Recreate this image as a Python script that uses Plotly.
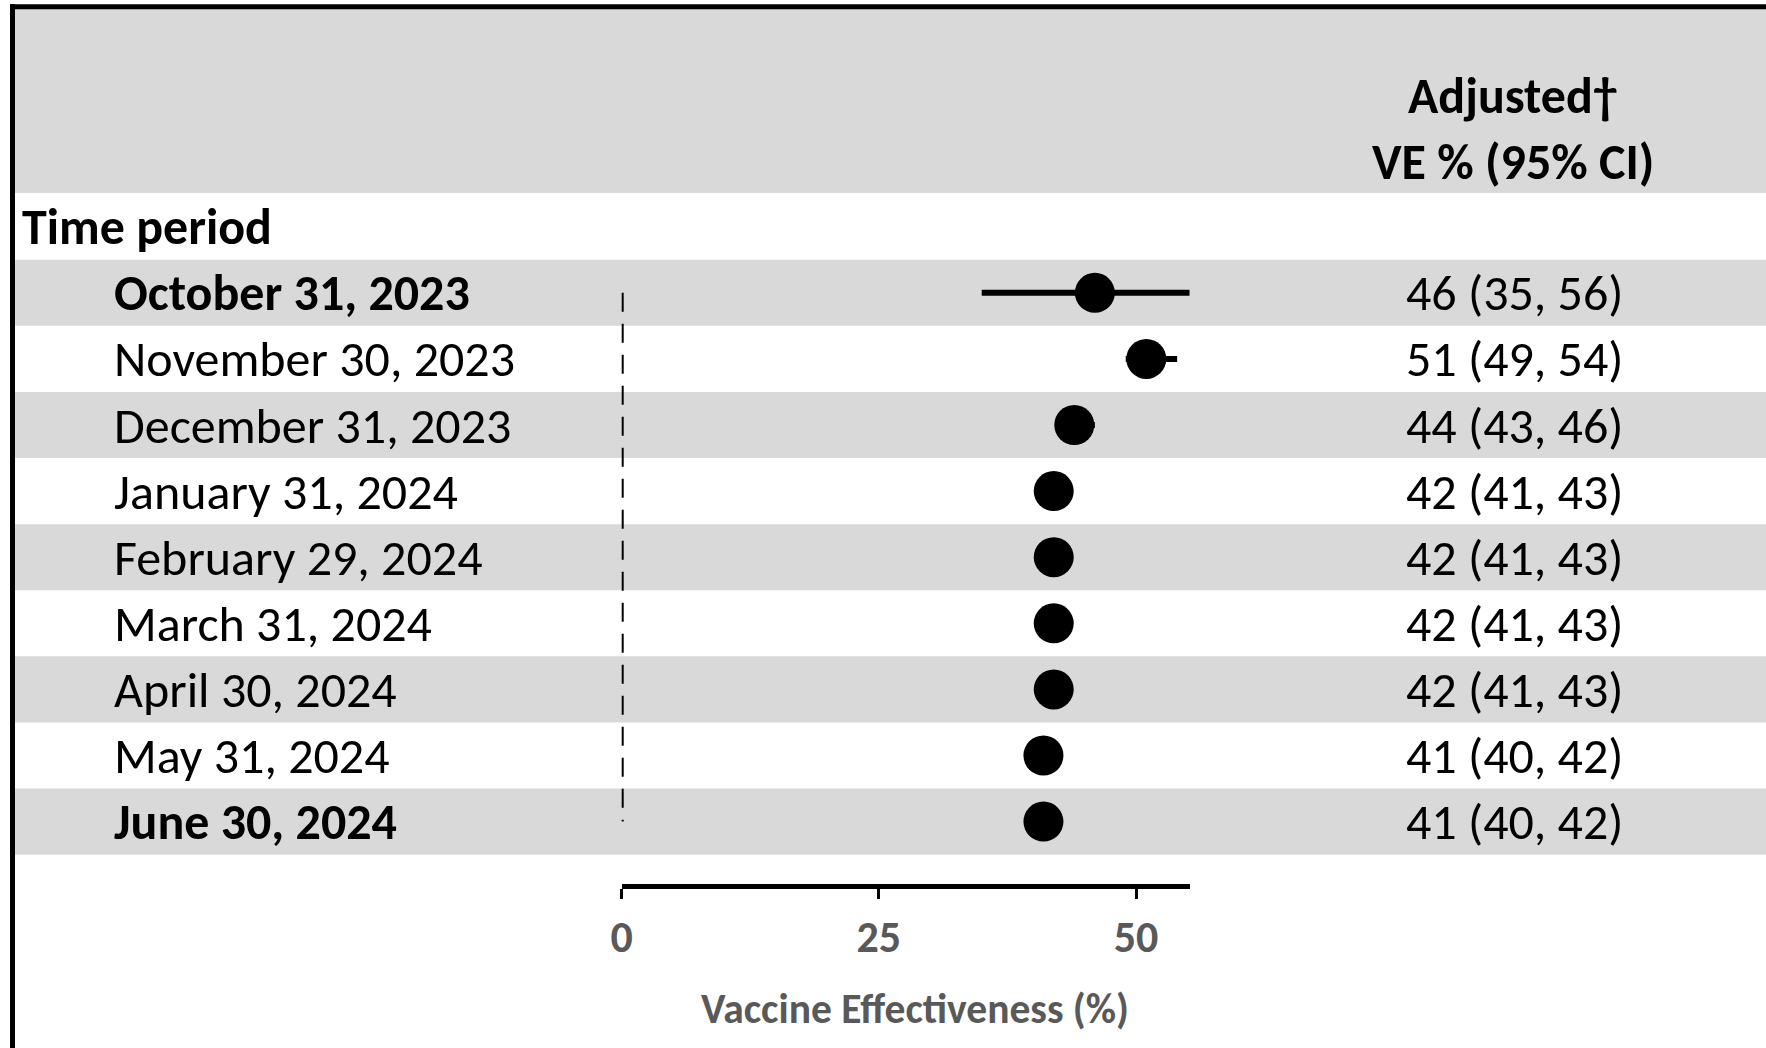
import plotly.graph_objects as go

# ---------------- data ----------------
periods = [
    "October 31, 2023", "November 30, 2023", "December 31, 2023",
    "January 31, 2024", "February 29, 2024", "March 31, 2024",
    "April 30, 2024", "May 31, 2024", "June 30, 2024",
]
bold_rows = [True, False, False, False, False, False, False, False, True]
ve = [46, 51, 44, 42, 42, 42, 42, 41, 41]
ci_low = [35, 49, 43, 41, 41, 41, 41, 40, 40]
ci_high = [56, 54, 46, 43, 43, 43, 43, 42, 42]
x_ticks = [0, 25, 50]
header_line1 = "Adjusted†"
header_line2 = "VE % (95% CI)"
row_header = "Time period"
x_title = "Vaccine Effectiveness (%)"

# ---------------- layout constants ----------------
W, H = 1766, 1048
FONT = "Calibri, Carlito, Lato, sans-serif"
GRAY_BAND = "#D9D9D9"
GRAY_TEXT = "#595959"
TXT = 50

rows = list(range(len(periods)))

fig = go.Figure()

fig.add_trace(go.Scatter(
    x=ve, y=rows, mode="markers",
    marker=dict(size=40, color="black"),
    error_x=dict(type="data", symmetric=False,
                 array=[h - v for h, v in zip(ci_high, ve)],
                 arrayminus=[v - l for v, l in zip(ve, ci_low)],
                 color="black", thickness=6, width=0),
    cliponaxis=True, showlegend=False, hoverinfo="skip",
))

shapes = []
# header band
shapes.append(dict(type="rect", xref="paper", yref="y", x0=0.006, x1=1,
                   y0=-4.35, y1=-1.51, fillcolor=GRAY_BAND, line_width=0, layer="below"))
# alternating row bands
for i in rows:
    if i % 2 == 0:
        shapes.append(dict(type="rect", xref="paper", yref="y", x0=0.006, x1=1,
                           y0=i - 0.5, y1=i + 0.5, fillcolor=GRAY_BAND,
                           line_width=0, layer="below"))
# reference dashed line at 0
shapes.append(dict(type="line", xref="x", yref="y", x0=0, x1=0, y0=rows[0], y1=rows[-1],
                   line=dict(color="black", width=4, dash="19px,12px"), layer="above"))
# border
shapes.append(dict(type="line", xref="paper", yref="paper", x0=10 / W, x1=1,
                   y0=1 - 6.7 / H, y1=1 - 6.7 / H, line=dict(color="black", width=5)))
shapes.append(dict(type="line", xref="paper", yref="paper", x0=12.5 / W, x1=12.5 / W,
                   y0=0, y1=1 - 4.2 / H, line=dict(color="black", width=5)))

annotations = []
for i, (p, b) in enumerate(zip(periods, bold_rows)):
    annotations.append(dict(xref="paper", yref="y", x=112 / W, y=i, xanchor="left",
                            yanchor="middle", showarrow=False,
                            text=f"<b>{p}</b>" if b else p,
                            font=dict(family=FONT, size=TXT, color="black")))
    annotations.append(dict(xref="paper", yref="y", x=1514 / W, y=i, xanchor="center",
                            yanchor="middle", showarrow=False,
                            text=f"{ve[i]} ({ci_low[i]}, {ci_high[i]})",
                            font=dict(family=FONT, size=TXT, color="black")))
annotations.append(dict(xref="paper", yref="y", x=20 / W, y=-1, xanchor="left",
                        yanchor="middle", showarrow=False, text=f"<b>{row_header}</b>",
                        font=dict(family=FONT, size=TXT, color="black")))
annotations.append(dict(xref="paper", yref="y", x=1513 / W, y=-2.98, xanchor="center",
                        yanchor="middle", showarrow=False, text=f"<b>{header_line1}</b>",
                        font=dict(family=FONT, size=TXT, color="black")))
annotations.append(dict(xref="paper", yref="y", x=1513 / W, y=-1.99, xanchor="center",
                        yanchor="middle", showarrow=False, text=f"<b>{header_line2}</b>",
                        font=dict(family=FONT, size=TXT, color="black")))

y_top = -292.8 / 66.1
y_bot = (884 - 292.8) / 66.1

fig.update_layout(
    width=W, height=H,
    margin=dict(l=0, r=0, t=0, b=0, pad=0, autoexpand=False),
    paper_bgcolor="white", plot_bgcolor="rgba(0,0,0,0)",
    shapes=shapes, annotations=annotations,
    xaxis=dict(domain=[621.7 / W, 1189.5 / W], range=[0, 55.2], automargin=False,
               showgrid=False, zeroline=False, showline=True, linewidth=5,
               linecolor="black", ticks="outside", ticklen=10, tickwidth=3,
               tickcolor="black", tickvals=x_ticks,
               ticktext=[f"<b>{t}</b>" for t in x_ticks],
               tickfont=dict(family=FONT, size=44, color=GRAY_TEXT),
               ticklabelstandoff=0,
               title=dict(text=f"&nbsp;&nbsp;<b>{x_title}</b>", standoff=33,
                          font=dict(family=FONT, size=41.5, color=GRAY_TEXT))),
    yaxis=dict(domain=[(H - 884) / H, 1], range=[y_bot, y_top], automargin=False,
               showgrid=False, zeroline=False, showticklabels=False, showline=False,
               ticks=""),
)

fig.write_html("out.html", config={"displayModeBar": False},
               post_script="document.body.style.margin='0';document.body.style.overflow='hidden';")
